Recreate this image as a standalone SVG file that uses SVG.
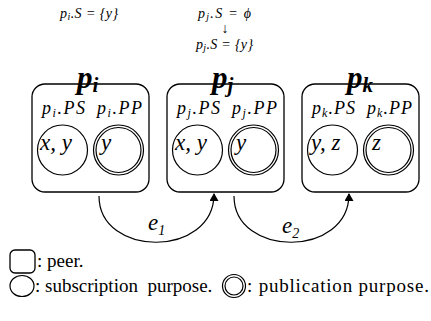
<svg xmlns="http://www.w3.org/2000/svg" width="431" height="321" viewBox="0 0 431 321">
<style>
.box{fill:none;stroke:#000;stroke-width:1.3}
.c{fill:none;stroke:#000;stroke-width:1.2}
.m{font-family:"Liberation Serif",serif;font-style:italic;fill:#000}
.t{font-family:"Liberation Serif",serif;font-weight:bold;font-style:italic;font-size:31px;fill:#000}
.lbl{font-size:18px}
.in{font-size:23px}
.top{font-size:14px}
.leg{font-family:"Liberation Serif",serif;font-size:19px;fill:#000}
.edge{fill:none;stroke:#000;stroke-width:1.2}
</style>
<defs>
<marker id="ah" markerWidth="8" markerHeight="9" refX="7" refY="4.5" orient="auto" markerUnits="userSpaceOnUse">
<path d="M0,0 L8,4.5 L0,9 Z" fill="#000"/>
</marker>
</defs>
<g id="top-notes">
<text class="m top" x="60" y="18" textLength="58">p<tspan font-size="10" dy="2">i</tspan><tspan dy="-2">.S = {y}</tspan></text>
<text class="m top" x="198" y="18" textLength="53">p<tspan font-size="10" dy="2">j</tspan><tspan dy="-2">.S = ϕ</tspan></text>
<text class="m top" x="225" y="33" font-style="normal" text-anchor="middle">↓</text>
<text class="m top" x="196" y="49" textLength="57">p<tspan font-size="10" dy="2">j</tspan><tspan dy="-2">.S = {y}</tspan></text>
</g>
<g id="peer-i">
<rect class="box" x="32" y="84" width="117" height="108" rx="13"/>
<text class="t" x="77" y="88">p<tspan font-size="21" dy="4">i</tspan></text>
<text class="m lbl" x="42" y="114" textLength="43">p<tspan font-size="12" dy="3">i</tspan><tspan dy="-3">.PS</tspan></text>
<text class="m lbl" x="97" y="114" textLength="45">p<tspan font-size="12" dy="3">i</tspan><tspan dy="-3">.PP</tspan></text>
<circle class="c" cx="62.5" cy="150" r="25"/>
<text class="m in" x="40" y="150">x, y</text>
<circle class="c" cx="118.5" cy="150" r="25"/>
<circle class="c" cx="118.5" cy="150" r="22.5"/>
<text class="m in" x="101" y="150">y</text>
</g>
<g id="peer-j">
<rect class="box" x="167" y="84" width="117" height="108" rx="13"/>
<text class="t" x="212" y="88">p<tspan font-size="21" dy="4">j</tspan></text>
<text class="m lbl" x="177" y="114" textLength="43">p<tspan font-size="12" dy="3">j</tspan><tspan dy="-3">.PS</tspan></text>
<text class="m lbl" x="232" y="114" textLength="45">p<tspan font-size="12" dy="3">j</tspan><tspan dy="-3">.PP</tspan></text>
<circle class="c" cx="197.5" cy="150" r="25"/>
<text class="m in" x="175" y="150">x, y</text>
<circle class="c" cx="253.5" cy="150" r="25"/>
<circle class="c" cx="253.5" cy="150" r="22.5"/>
<text class="m in" x="236" y="150">y</text>
</g>
<g id="peer-k">
<rect class="box" x="302" y="84" width="117" height="108" rx="13"/>
<text class="t" x="347" y="88">p<tspan font-size="21" dy="4">k</tspan></text>
<text class="m lbl" x="312" y="114" textLength="43">p<tspan font-size="12" dy="3">k</tspan><tspan dy="-3">.PS</tspan></text>
<text class="m lbl" x="367" y="114" textLength="45">p<tspan font-size="12" dy="3">k</tspan><tspan dy="-3">.PP</tspan></text>
<circle class="c" cx="332.5" cy="150" r="25"/>
<text class="m in" x="311" y="150">y, z</text>
<circle class="c" cx="388.5" cy="150" r="25"/>
<circle class="c" cx="388.5" cy="150" r="22.5"/>
<text class="m in" x="372" y="150">z</text>
</g>
<g id="connectors">
<path class="edge" d="M99,196 C99,258 214,258 214,194" marker-end="url(#ah)"/>
<text class="m in" x="148" y="230">e<tspan font-size="14" dy="5">1</tspan></text>
<path class="edge" d="M234,196 C234,258 349,258 349,194" marker-end="url(#ah)"/>
<text class="m in" x="282" y="233">e<tspan font-size="14" dy="5">2</tspan></text>
</g>
<g id="legend">
<rect class="box" x="10" y="250" width="25" height="23" rx="5"/>
<text class="leg" x="37" y="267">: peer.</text>
<ellipse class="c" cx="22" cy="286" rx="12" ry="10.5"/>
<text class="leg" x="35" y="292" xml:space="preserve">: subscription  purpose.</text>
<circle class="c" cx="234" cy="286" r="11.5"/>
<circle class="c" cx="234" cy="286" r="9"/>
<text class="leg" x="247" y="292" textLength="182">: publication purpose.</text>
</g>
</svg>
